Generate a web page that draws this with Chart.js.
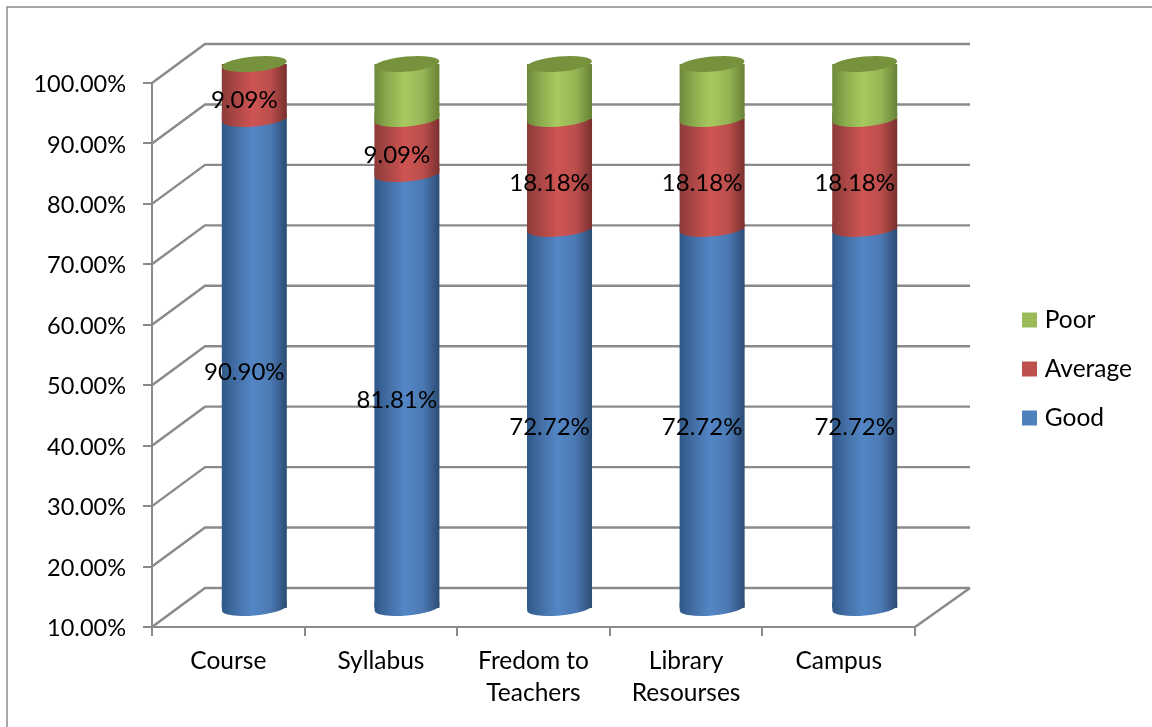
<!DOCTYPE html>
<html>
<head>
<meta charset="utf-8">
<style>
  html, body { margin: 0; padding: 0; background: #fff; overflow: hidden; }
  #wrap { width: 1152px; height: 727px; }
</style>
<script src="https://cdn.jsdelivr.net/npm/chart.js@4"></script>
</head>
<body>
<div id="wrap"><canvas id="myChart" width="1152" height="727"></canvas></div>
<script>
var categories = ["Course", "Syllabus", ["Fredom to", "Teachers"], ["Library", "Resourses"], "Campus"];
var good = [90.90, 81.81, 72.72, 72.72, 72.72];
var average = [9.09, 9.09, 18.18, 18.18, 18.18];
var poor = [0, 9.09, 9.09, 9.09, 9.09];

var legendColors = ["#4f81bd", "#c0504d", "#9bbb59"];
var shades = [
  ["#2f5888", "#436fa6", "#5486c6", "#4b79b3", "#2b4c74"],
  ["#8d3b39", "#ab4745", "#ce5553", "#bb4e4c", "#79302e"],
  ["#6c893a", "#8dae4f", "#a7c95f", "#95b555", "#678234"]
];
var capColor = "#76923c";
var gridColor = "#8a8a8a";
var font = "Lato, Carlito, sans-serif";

// depth of the fake 3d box
var wallX = 53, wallY = -39;
var barX = 26, barY = -19;
var labelX = 16, labelY = -11;
var barShare = 0.426;
var capRy = 7.5, capTilt = -5 * Math.PI / 180;

function barFill(i) {
  return function (c) {
    var x = c.chart.scales && c.chart.scales.x;
    if (!x || c.dataIndex === undefined) return legendColors[i];
    var w = (x.right - x.left) / categories.length * barShare;
    var mid = x.getPixelForValue(c.dataIndex);
    var g = c.chart.ctx.createLinearGradient(mid - w / 2, 0, mid + w / 2, 0);
    g.addColorStop(0, shades[i][0]);
    g.addColorStop(0.22, shades[i][1]);
    g.addColorStop(0.47, shades[i][2]);
    g.addColorStop(0.75, shades[i][3]);
    g.addColorStop(1, shades[i][4]);
    return g;
  };
}

var box3d = {
  id: "box3d",
  afterLayout: function (chart) {
    // legend sits out to the right of the box, higher than its default middle
    var l = chart.legend;
    l.left = 1002;
    l.right = 1152;
    l.top -= 36;
    l.bottom -= 36;
  },
  beforeDraw: function (chart) {
    var ctx = chart.ctx;
    ctx.save();
    ctx.fillStyle = "#fff";
    ctx.fillRect(0, 0, chart.width, chart.height);
    ctx.strokeStyle = gridColor;
    ctx.lineWidth = 1.5;
    ctx.beginPath();
    ctx.moveTo(7, chart.height);
    ctx.lineTo(7, 7);
    ctx.lineTo(chart.width, 7);
    ctx.stroke();
    ctx.restore();
  },
  beforeDatasetsDraw: function (chart) {
    var ctx = chart.ctx, xs = chart.scales.x, ys = chart.scales.y;
    ctx.save();
    ctx.strokeStyle = gridColor;
    ctx.lineWidth = 2.4;
    ctx.beginPath();
    ys.ticks.forEach(function (t) {
      var y = ys.getPixelForValue(t.value);
      ctx.moveTo(xs.left, y);
      ctx.lineTo(xs.left + wallX, y + wallY);
      ctx.lineTo(xs.right + wallX + 2, y + wallY);
    });
    var floor = ys.getPixelForValue(ys.min);
    ctx.moveTo(xs.right, floor);
    ctx.lineTo(xs.right + wallX + 2, floor + wallY);
    ctx.stroke();
    ctx.restore();
    ctx.save();
    ctx.translate(barX, barY);
  },
  afterDatasetsDraw: function (chart) {
    var ctx = chart.ctx, floor = chart.scales.y.getPixelForValue(chart.scales.y.min);
    // rounded fronts, lowest series first, so each one sits over the one below
    chart.data.datasets.forEach(function (ds, i) {
      chart.getDatasetMeta(i).data.forEach(function (bar, j) {
        if (ds.data[j] === 0) return;
        var base = Math.min(bar.base, floor);
        ctx.beginPath();
        ctx.ellipse(bar.x, base, bar.width / 2, capRy, capTilt, 0, Math.PI);
        ctx.lineTo(bar.x - bar.width / 2, base - 6);
        ctx.lineTo(bar.x + bar.width / 2, base - 6);
        ctx.closePath();
        ctx.fillStyle = barFill(i)({ chart: chart, dataIndex: j });
        ctx.fill();
      });
    });
    chart.getDatasetMeta(2).data.forEach(function (bar) {
      ctx.beginPath();
      ctx.ellipse(bar.x, bar.y, bar.width / 2, capRy, capTilt, 0, Math.PI * 2);
      ctx.fillStyle = capColor;
      ctx.fill();
    });
    ctx.restore();

    // value labels, not for Poor
    ctx.save();
    ctx.font = "24px " + font;
    ctx.fillStyle = "#000";
    ctx.textAlign = "center";
    ctx.textBaseline = "middle";
    [0, 1].forEach(function (i) {
      chart.getDatasetMeta(i).data.forEach(function (bar, j) {
        var txt = chart.data.datasets[i].data[j].toFixed(2) + "%";
        ctx.fillText(txt, bar.x + labelX, (bar.y + Math.min(bar.base, floor)) / 2 + labelY + 1);
      });
    });
    ctx.restore();
  }
};

var barClip = { left: false, right: false, top: false, bottom: 0 };

new Chart("myChart", {
  type: "bar",
  data: {
    labels: categories,
    datasets: [
      { label: "Good", data: good, backgroundColor: barFill(0), clip: barClip },
      { label: "Average", data: average, backgroundColor: barFill(1), clip: barClip },
      { label: "Poor", data: poor, backgroundColor: barFill(2), clip: barClip }
    ]
  },
  plugins: [box3d],
  options: {
    responsive: false,
    animation: false,
    barPercentage: barShare,
    categoryPercentage: 1,
    layout: { padding: { top: 83, left: 0, right: 97, bottom: 0 } },
    plugins: {
      tooltip: { enabled: false },
      legend: {
        position: "right",
        reverse: true,
        labels: {
          boxWidth: 6,
          boxHeight: 6,
          padding: 24.5,
          color: "#000",
          font: { family: font, size: 24.5 },
          generateLabels: function (chart) {
            // thick stroke round a small box, keeps the text close to the swatch
            return chart.data.datasets.map(function (ds, i) {
              return { text: ds.label, fillStyle: legendColors[i], strokeStyle: legendColors[i], lineWidth: 9, datasetIndex: i };
            });
          }
        }
      }
    },
    scales: {
      x: {
        stacked: true,
        afterFit: function (s) { s.height = 100; },
        grid: { drawOnChartArea: false, color: gridColor, lineWidth: 2, tickLength: 9 },
        border: { color: gridColor, width: 2 },
        ticks: { color: "#000", font: { family: font, size: 24.5, lineHeight: 1.31 }, padding: 9, maxRotation: 0, autoSkip: false }
      },
      y: {
        stacked: true,
        min: 10,
        max: 100,
        afterFit: function (s) { s.width = 152; },
        grid: { drawOnChartArea: false, color: gridColor, lineWidth: 2, tickLength: 9 },
        border: { color: gridColor, width: 2 },
        ticks: {
          stepSize: 10,
          color: "#000",
          padding: 17,
          labelOffset: 1.5,
          font: { family: font, size: 23.5 },
          callback: function (v) { return v.toFixed(2) + "%"; }
        }
      }
    }
  }
});
</script>
</body>
</html>
